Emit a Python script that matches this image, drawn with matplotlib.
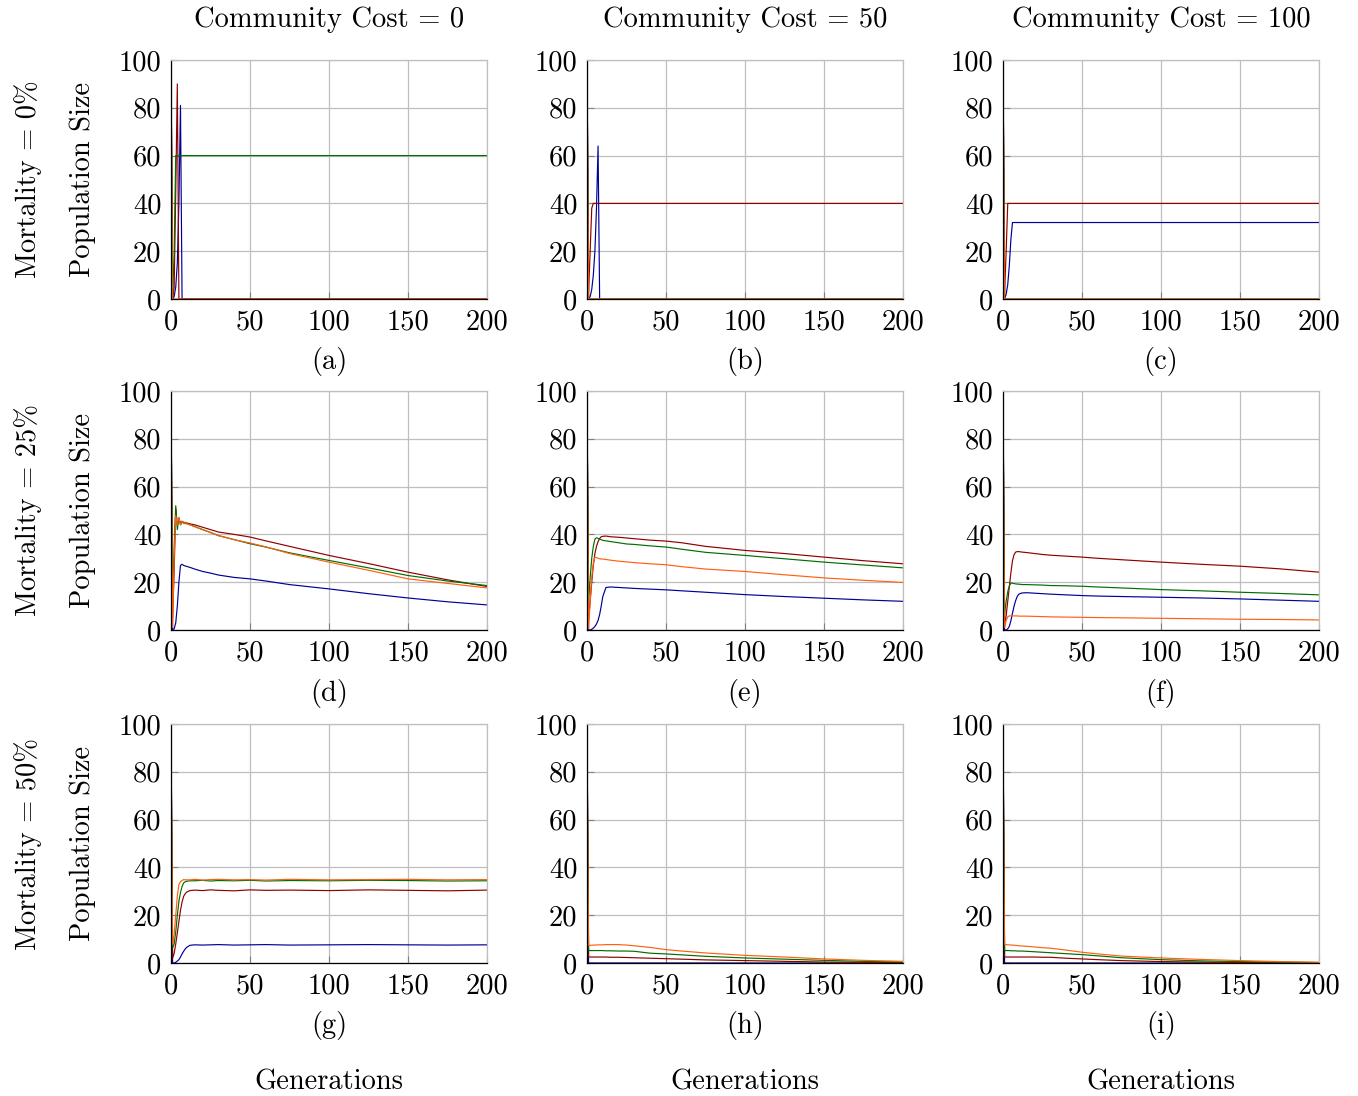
import matplotlib.pyplot as plt

# Font close to LaTeX Computer Modern
plt.rcParams['font.family'] = ['cmr10', 'DejaVu Serif']
plt.rcParams['mathtext.fontset'] = 'cm'
plt.rcParams['axes.unicode_minus'] = False

generations = [0, 1, 2, 3, 4, 5, 6, 7, 8, 9, 10, 12, 15, 20, 25, 30, 40, 50, 60, 75, 100, 125, 150, 175, 200]

col_titles = ['Community Cost = 0', 'Community Cost = 50', 'Community Cost = 100']
row_titles = ['Mortality = 0%', 'Mortality = 25%', 'Mortality = 50%']
sub_labels = ['(a)', '(b)', '(c)', '(d)', '(e)', '(f)', '(g)', '(h)', '(i)']

# (a) mortality 0%, cost 0
a_blue = [100, 0, 1, 5, 15, 40, 81, 0, 0, 0, 0, 0, 0, 0, 0, 0, 0, 0, 0, 0, 0, 0, 0, 0, 0]
a_red = [100, 0, 5, 45, 90, 0, 0, 0, 0, 0, 0, 0, 0, 0, 0, 0, 0, 0, 0, 0, 0, 0, 0, 0, 0]
a_green = [100, 0, 20, 60, 60, 60, 60, 60, 60, 60, 60, 60, 60, 60, 60, 60, 60, 60, 60, 60, 60, 60, 60, 60, 60]
a_orange = [100, 0, 0, 0, 0, 0, 0, 0, 0, 0, 0, 0, 0, 0, 0, 0, 0, 0, 0, 0, 0, 0, 0, 0, 0]

# (b) mortality 0%, cost 50
b_blue = [100, 0, 1, 4, 10, 20, 38, 64, 0, 0, 0, 0, 0, 0, 0, 0, 0, 0, 0, 0, 0, 0, 0, 0, 0]
b_red = [100, 3, 20, 38, 40, 40, 40, 40, 40, 40, 40, 40, 40, 40, 40, 40, 40, 40, 40, 40, 40, 40, 40, 40, 40]
b_green = [100, 0, 0, 0, 0, 0, 0, 0, 0, 0, 0, 0, 0, 0, 0, 0, 0, 0, 0, 0, 0, 0, 0, 0, 0]
b_orange = [100, 0, 0, 0, 0, 0, 0, 0, 0, 0, 0, 0, 0, 0, 0, 0, 0, 0, 0, 0, 0, 0, 0, 0, 0]

# (c) mortality 0%, cost 100
c_blue = [100, 0, 2, 6, 14, 25, 32, 32, 32, 32, 32, 32, 32, 32, 32, 32, 32, 32, 32, 32, 32, 32, 32, 32, 32]
c_red = [100, 3, 20, 40, 40, 40, 40, 40, 40, 40, 40, 40, 40, 40, 40, 40, 40, 40, 40, 40, 40, 40, 40, 40, 40]
c_green = [100, 0, 0, 0, 0, 0, 0, 0, 0, 0, 0, 0, 0, 0, 0, 0, 0, 0, 0, 0, 0, 0, 0, 0, 0]
c_orange = [100, 0, 0, 0, 0, 0, 0, 0, 0, 0, 0, 0, 0, 0, 0, 0, 0, 0, 0, 0, 0, 0, 0, 0, 0]

# (d) mortality 25%, cost 0
d_blue = [100, 0, 0.5, 3, 10, 20, 27, 27.5, 27, 26.8, 26.6, 26.2, 25.5, 24.5, 23.8, 23, 22, 21.4, 20.5, 19, 17.2, 15.2, 13.4, 11.8, 10.5]
d_red = [97, 5, 25, 50.8, 44, 46, 45, 45.5, 45, 45, 44.8, 44.4, 44, 43, 42, 41, 40, 38.9, 37.3, 35, 31.2, 27.8, 24.2, 21, 18.2]
d_green = [94, 12, 35, 52, 42, 47, 44, 45, 45, 44.5, 44.5, 44, 43.3, 42, 40.8, 39.5, 37.8, 36.1, 34.7, 32.3, 29.1, 26, 22.8, 20.5, 18.6]
d_orange = [92, 1, 30, 48, 44, 47, 44, 45.5, 44.5, 45, 44.5, 44, 43.2, 42, 40.8, 39.5, 37.8, 36.4, 34.8, 32, 28.4, 25, 21.4, 19.5, 17.6]

# (e) mortality 25%, cost 50
e_blue = [100, 0, 0, 0.3, 0.8, 1.5, 2.5, 4, 6.5, 10, 14, 17.8, 18, 17.8, 17.6, 17.4, 17.1, 16.8, 16.4, 15.8, 14.8, 14, 13.3, 12.6, 12]
e_red = [97, 4.6, 12, 20, 27, 32, 35, 37, 38.3, 39, 39.2, 39.3, 39, 38.8, 38.5, 38.2, 37.6, 37.2, 36.5, 35, 33.3, 32, 30.5, 29, 27.7]
e_green = [94, 11.6, 22, 30, 35, 38, 38.6, 38.3, 38, 37.8, 37.5, 37.3, 37, 36.5, 36, 35.8, 35.2, 34.7, 33.8, 32.5, 31.2, 29.8, 28.4, 27.2, 26]
e_orange = [92, 0.5, 12, 22, 28, 30.5, 30.3, 30, 29.8, 29.7, 29.7, 29.5, 29.2, 28.8, 28.5, 28.2, 27.7, 27.3, 26.5, 25.5, 24.5, 23.1, 21.8, 20.8, 19.9]

# (f) mortality 25%, cost 100
f_blue = [100, 0, 0, 0.5, 1.5, 3.9, 7, 10, 12.3, 14, 15, 15.5, 15.6, 15.4, 15.2, 15, 14.7, 14.4, 14.2, 14, 13.7, 13.4, 13, 12.5, 12]
f_red = [97, 1.8, 6, 12, 18, 24, 29, 31.5, 32.6, 32.8, 32.8, 32.6, 32.4, 32, 31.6, 31.3, 30.9, 30.5, 30, 29.4, 28.4, 27.5, 26.7, 25.6, 24.2]
f_green = [94, 6.7, 12, 16, 18.5, 19.6, 19.6, 19.4, 19.3, 19.2, 19.2, 19, 19, 18.9, 18.8, 18.6, 18.5, 18.3, 18, 17.6, 16.9, 16.4, 15.8, 15.3, 14.7]
f_orange = [92, 1, 4, 5.5, 5.9, 5.9, 5.9, 5.9, 5.9, 5.9, 5.8, 5.8, 5.8, 5.7, 5.6, 5.5, 5.4, 5.3, 5.2, 5.1, 4.9, 4.7, 4.5, 4.4, 4.2]

# (g) mortality 50%, cost 0
g_blue = [100, 0, 0, 0.3, 0.8, 1.4, 2.5, 3.8, 4.9, 5.9, 6.6, 7.4, 7.6, 7.5, 7.6, 7.7, 7.5, 7.6, 7.7, 7.5, 7.6, 7.7, 7.6, 7.5, 7.6]
g_red = [97, 2, 4, 8, 12.5, 17.4, 22, 25.5, 27.9, 29, 29.7, 30.3, 30.5, 30.3, 30.6, 30.4, 30.2, 30.6, 30.4, 30.5, 30.3, 30.6, 30.4, 30.2, 30.5]
g_green = [94, 6.3, 8, 13, 20, 25.8, 29.5, 32, 33.5, 34, 34.2, 34.4, 34.4, 34.6, 34.3, 34.5, 34.4, 34.6, 34.3, 34.5, 34.4, 34.6, 34.5, 34.3, 34.4]
g_orange = [92, 7.7, 12, 20, 28, 32.8, 34, 34.5, 34.9, 34.8, 34.8, 34.8, 35, 34.7, 34.9, 35, 34.8, 34.9, 34.7, 35, 34.8, 34.9, 35, 34.8, 34.9]

# (h) mortality 50%, cost 50
h_blue = [100, 0, 0, 0, 0, 0, 0, 0, 0, 0, 0, 0, 0, 0, 0, 0, 0, 0, 0, 0, 0, 0, 0, 0, 0]
h_red = [97, 2.5, 2.5, 2.5, 2.5, 2.5, 2.5, 2.5, 2.5, 2.5, 2.5, 2.5, 2.4, 2.4, 2.3, 2.2, 2, 1.8, 1.6, 1.3, 1, 0.7, 0.4, 0.3, 0.2]
h_green = [94, 5.2, 5.2, 5.2, 5.2, 5.2, 5.2, 5.2, 5.2, 5.2, 5.2, 5.1, 5.1, 5, 5, 4.9, 4.1, 3.8, 3.4, 2.8, 2.1, 1.6, 1.1, 0.7, 0.4]
h_orange = [92, 7.3, 7.4, 7.4, 7.5, 7.5, 7.5, 7.6, 7.6, 7.6, 7.6, 7.7, 7.7, 7.7, 7.5, 7.2, 6.5, 5.6, 5, 4.2, 3.2, 2.5, 1.7, 1.1, 0.7]

# (i) mortality 50%, cost 100
i_blue = [100, 0, 0, 0, 0, 0, 0, 0, 0, 0, 0, 0, 0, 0, 0, 0, 0, 0, 0, 0, 0, 0, 0, 0, 0]
i_red = [97, 2.5, 2.5, 2.5, 2.5, 2.5, 2.5, 2.5, 2.5, 2.5, 2.5, 2.5, 2.5, 2.5, 2.4, 2.4, 2, 1.7, 1.4, 1, 0.6, 0.4, 0.2, 0.1, 0]
i_green = [94, 5.2, 5.2, 5.2, 5.2, 5.1, 5.1, 5.1, 5.1, 5, 5, 5, 4.9, 4.7, 4.5, 4.3, 3.9, 3.5, 3, 2.2, 1.4, 0.9, 0.6, 0.4, 0.2]
i_orange = [92, 7.7, 7.7, 7.6, 7.6, 7.5, 7.5, 7.4, 7.4, 7.3, 7.2, 7.1, 7, 6.7, 6.4, 6.2, 5.4, 4.5, 3.8, 2.9, 2.1, 1.5, 1, 0.6, 0.3]

panels = [
    [a_blue, a_red, a_green, a_orange],
    [b_blue, b_red, b_green, b_orange],
    [c_blue, c_red, c_green, c_orange],
    [d_blue, d_red, d_green, d_orange],
    [e_blue, e_red, e_green, e_orange],
    [f_blue, f_red, f_green, f_orange],
    [g_blue, g_red, g_green, g_orange],
    [h_blue, h_red, h_green, h_orange],
    [i_blue, i_red, i_green, i_orange],
]
colors = ['#000099', '#8f0000', '#006e00', '#ff6010']

W, H = 1358, 1096
fig = plt.figure(figsize=(W / 100, H / 100), dpi=100)

# Pixel layout of the grid
col_left = [171, 587, 1003]
row_top = [60, 391, 724]
ax_w, ax_h = 316, 239
fs = 20.5

for r in range(3):
    for c in range(3):
        k = r * 3 + c
        x0 = col_left[c] / W
        y0 = 1 - (row_top[r] + ax_h) / H
        ax = fig.add_axes([x0, y0, ax_w / W, ax_h / H])
        for series, col in zip(panels[k], colors):
            ax.plot(generations, series, color=col, lw=0.85)
        ax.set_xlim(0, 200)
        ax.set_ylim(0, 100)
        ax.set_xticks([0, 50, 100, 150, 200])
        ax.set_yticks([0, 20, 40, 60, 80, 100])
        ax.grid(True, color='#bfbfbf', lw=0.9)
        ax.set_axisbelow(True)
        ax.tick_params(direction='in', length=5, width=0.8, color='#808080',
                       labelsize=fs, pad=7)
        ax.spines['left'].set_color('black')
        ax.spines['bottom'].set_color('black')
        ax.spines['top'].set_color('#bfbfbf')
        ax.spines['right'].set_color('#bfbfbf')
        for s in ax.spines.values():
            s.set_linewidth(0.9)
        # sub caption
        fig.text((col_left[c] + ax_w / 2) / W, 1 - (row_top[r] + ax_h + 63) / H,
                 sub_labels[k], ha='center', va='center', fontsize=fs)

for c in range(3):
    cx = (col_left[c] + ax_w / 2) / W
    fig.text(cx, 1 - 20 / H, col_titles[c], ha='center', va='center', fontsize=fs)
    fig.text(cx, 1 - 1082 / H, 'Generations', ha='center', va='center', fontsize=fs)

for r in range(3):
    cy = 1 - (row_top[r] + ax_h / 2) / H
    fig.text(28 / W, cy, row_titles[r], rotation=90, ha='center', va='center', fontsize=fs)
    fig.text(83 / W, cy, 'Population Size', rotation=90, ha='center', va='center', fontsize=fs)

fig.savefig('out.png', dpi=100)
